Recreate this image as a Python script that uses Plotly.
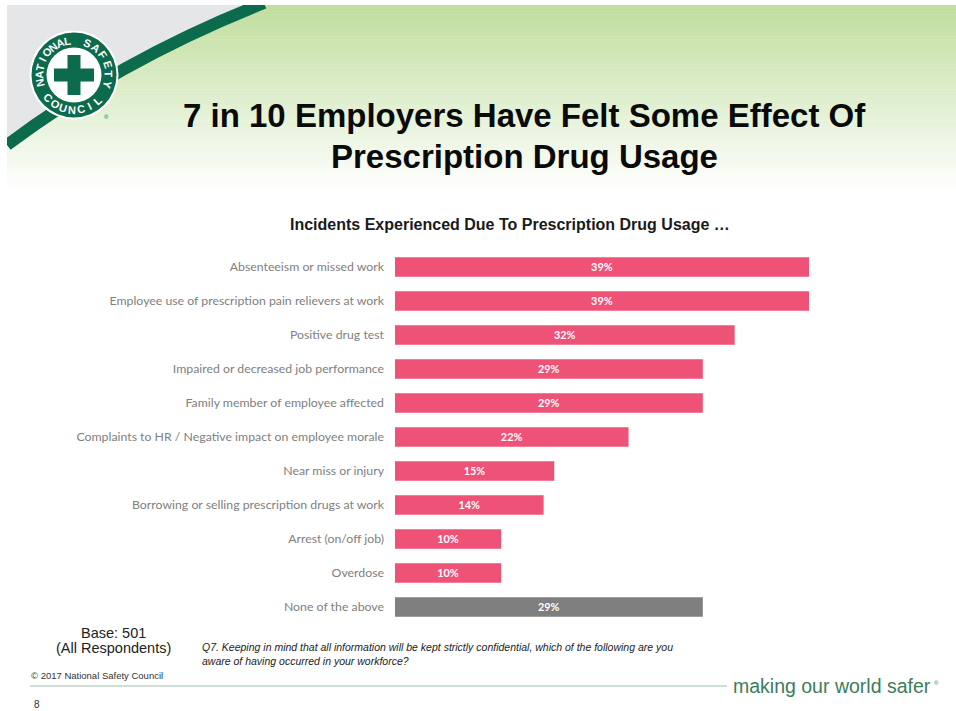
import math
import plotly.graph_objects as go

W, H = 956, 711

categories = [
    "Absenteeism or missed work",
    "Employee use of prescription pain relievers at work",
    "Positive drug test",
    "Impaired or decreased job performance",
    "Family member of employee affected",
    "Complaints to HR / Negative impact on employee morale",
    "Near miss or injury",
    "Borrowing or selling prescription drugs at work",
    "Arrest (on/off job)",
    "Overdose",
    "None of the above",
]
values = [39, 39, 32, 29, 29, 22, 15, 14, 10, 10, 29]
value_labels = [f"{v}%" for v in values]

PINK = "#EE5276"
GRAY = "#7F7F7F"
bar_colors = [GRAY if c == "None of the above" else PINK for c in categories]


def px(x):
    return x / W


def py(y):
    return 1 - y / H


fig = go.Figure()
fig.add_trace(go.Bar(
    y=categories, x=values, orientation="h",
    marker=dict(color=bar_colors, line=dict(width=0)),
    width=0.57,
    text=[f"<b>{t}</b>" for t in value_labels],
    textposition="inside", insidetextanchor="middle",
    textfont=dict(family="Lato", size=13, color="white"),
    hoverinfo="skip",
))

shapes = []
# gradient header background
N = 60
top, bot = 5, 192
c0 = (192, 222, 158)
for i in range(N):
    y0 = top + (bot - top) * i / N
    y1 = top + (bot - top) * (i + 1) / N + 0.5
    t = i / (N - 1)
    col = tuple(int(round(c + (255 - c) * t)) for c in c0)
    shapes.append(dict(type="rect", xref="paper", yref="paper", layer="below",
                       x0=px(7), x1=1, y0=py(y1), y1=py(y0),
                       fillcolor=f"rgb{col}", line=dict(width=0)))

# gray corner region
P0 = (7, 145)
C = (120, 60)
P2 = (264, 3)
shapes.append(dict(type="path", xref="paper", yref="paper", layer="below",
                   path=f"M {px(7)},{py(5)} L {px(270)},{py(5)} L {px(P2[0])},{py(P2[1])} "
                        f"Q {px(C[0])},{py(C[1])} {px(P0[0])},{py(P0[1])} Z",
                   fillcolor="#E5E6E8", line=dict(width=0)))
# green stripe
shapes.append(dict(type="path", xref="paper", yref="paper", layer="below",
                   path=f"M {px(P0[0])},{py(P0[1])} Q {px(C[0])},{py(C[1])} {px(P2[0])},{py(P2[1])}",
                   line=dict(color="#0C6B4C", width=12)))
# white top / left border
shapes.append(dict(type="rect", xref="paper", yref="paper", layer="below",
                   x0=0, x1=1, y0=py(5), y1=1, fillcolor="white", line=dict(width=0)))
shapes.append(dict(type="rect", xref="paper", yref="paper", layer="below",
                   x0=0, x1=px(7), y0=py(200), y1=1, fillcolor="white", line=dict(width=0)))

# logo
cx, cy = 74, 75


def circle(r, color):
    return dict(type="circle", xref="paper", yref="paper", layer="below",
                x0=px(cx - r), x1=px(cx + r), y0=py(cy + r), y1=py(cy - r),
                fillcolor=color, line=dict(width=0))


shapes.append(circle(44.5, "white"))
shapes.append(circle(42.5, "#0C6B4C"))
shapes.append(circle(27.5, "white"))
for (x0, x1, y0, y1) in [(cx - 20, cx + 20, cy - 6.5, cy + 6.5), (cx - 6.5, cx + 6.5, cy - 20, cy + 20)]:
    shapes.append(dict(type="rect", xref="paper", yref="paper", layer="below",
                       x0=px(x0), x1=px(x1), y0=py(y1), y1=py(y0),
                       fillcolor="#0C6B4C", line=dict(width=0)))

# footer line
shapes.append(dict(type="line", xref="paper", yref="paper",
                   x0=px(30), x1=px(727), y0=py(686), y1=py(686),
                   line=dict(color="#9DC2AB", width=1.2)))

annotations = []


def txt(x, y, text, size, color="#000", family="Liberation Sans", xanchor="center",
        yanchor="middle", angle=0, align="center"):
    annotations.append(dict(x=px(x), y=py(y), xref="paper", yref="paper", text=text,
                            showarrow=False, xanchor=xanchor, yanchor=yanchor,
                            textangle=angle, align=align,
                            font=dict(family=family, size=size, color=color)))


def arc_word(word, a0, a1, r, top_side=True):
    n = len(word)
    for i, ch in enumerate(word):
        th = a0 + (a1 - a0) * i / (n - 1)
        x = cx + r * math.cos(math.radians(th))
        y = cy - r * math.sin(math.radians(th))
        ang = (90 - th) if top_side else (270 - th)
        txt(x, y, f"<b>{ch}</b>", 11, "white", angle=ang)


# logo lettering
arc_word("NATIONAL", 193, 100, 35.0)
arc_word("SAFETY", 68, -16, 35.0)
arc_word("COUNCIL", 222, 312, 34.6, top_side=False)
txt(106, 117, "®", 6, "#0C6B4C")

# titles
txt(524, 116, "<b>7 in 10 Employers Have Felt Some Effect Of</b>", 33, "#0a0a0a")
txt(524, 156, "<b>Prescription Drug Usage</b>", 33, "#0a0a0a")
txt(510, 224, "<b>Incidents Experienced Due To Prescription Drug Usage …</b>", 16, "#1a1a1a")

# footer
txt(113, 633, "Base: 501", 14.5, "#222")
txt(113, 648, "(All Respondents)", 14.5, "#222")
txt(200, 654,
    "<i>Q7. Keeping in mind that all information will be kept strictly confidential, which of the following are you<br>"
    "aware of having occurred in your workforce?</i>",
    10.5, "#222", xanchor="left", align="left")
txt(29, 675, "© 2017 National Safety Council", 9.5, "#333", xanchor="left")
txt(731, 686, "making our world safer", 19.5, "#3B7D5B", xanchor="left")
txt(932, 683, "®", 6, "#3B7D5B", xanchor="left")
txt(32, 704, "8", 10, "#333", xanchor="left")

x_max = 41
fig.update_layout(
    width=W, height=H,
    margin=dict(l=0, r=0, t=0, b=0),
    paper_bgcolor="white", plot_bgcolor="rgba(0,0,0,0)",
    showlegend=False,
    shapes=shapes, annotations=annotations,
    xaxis=dict(domain=[px(395), px(395 + x_max * 10.615)], range=[0, x_max],
               visible=False, fixedrange=True),
    yaxis=dict(domain=[py(624), py(250)], autorange="reversed",
               showgrid=False, zeroline=False, showline=False, ticks="",
               ticklabelstandoff=10, fixedrange=True,
               tickfont=dict(family="Lato", size=12.3, color="#808080")),
)

fig.write_html(
    "out.html",
    config={"displayModeBar": False},
    post_script="document.body.style.margin='0';document.body.style.overflow='hidden';",
)
